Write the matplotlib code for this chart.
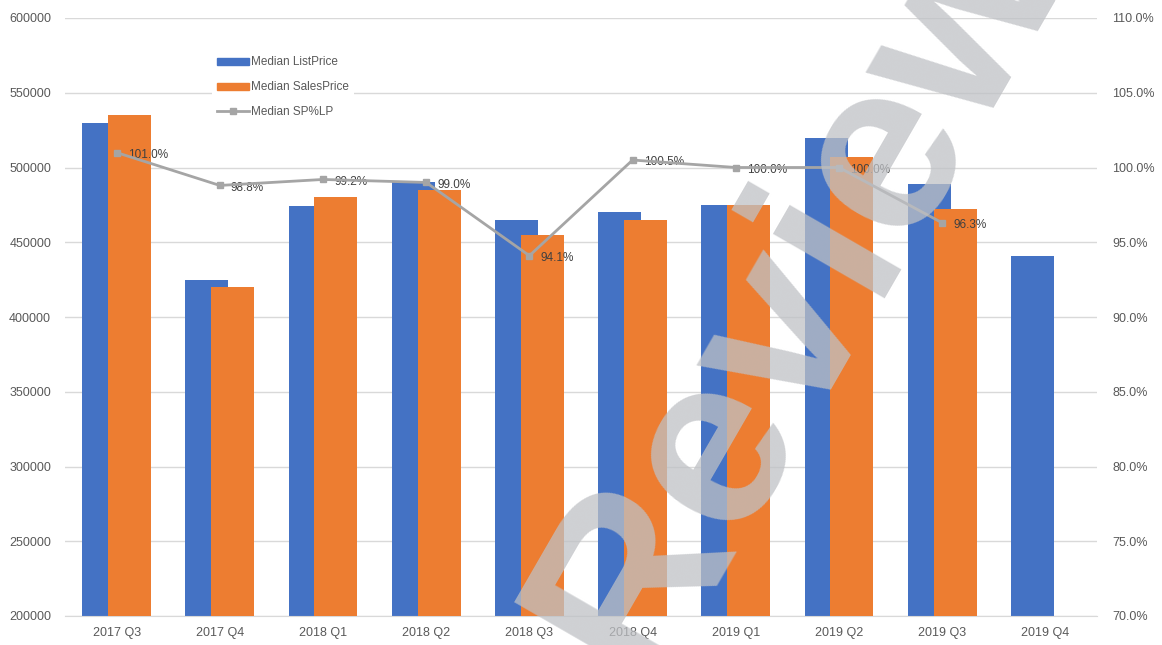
import numpy as np
import matplotlib.pyplot as plt
from matplotlib.patches import Patch
from matplotlib.lines import Line2D
from matplotlib.ticker import FuncFormatter, MultipleLocator

plt.rcParams['font.family'] = ['Liberation Sans', 'DejaVu Sans']

quarters = ['2017 Q3', '2017 Q4', '2018 Q1', '2018 Q2', '2018 Q3',
            '2018 Q4', '2019 Q1', '2019 Q2', '2019 Q3', '2019 Q4']
list_price = [530000, 425000, 474000, 490000, 465000,
              470000, 475000, 520000, 489000, 441000]
sales_price = [535000, 420000, 480000, 485000, 455000,
               465000, 475000, 507000, 472000, np.nan]
sp_lp = [101.0, 98.8, 99.2, 99.0, 94.1, 100.5, 100.0, 100.0, 96.3]

BLUE = '#4472C4'
ORANGE = '#ED7D31'
GREY = '#A5A5A5'
TICK = '#595959'

fig = plt.figure(figsize=(11.62, 6.45), dpi=100)
ax = fig.add_axes([65 / 1162, 29 / 645, 1032 / 1162, 598 / 645])
ax2 = ax.twinx()

x = np.arange(len(quarters))
w = 0.417
ax.bar(x - 0.125, list_price, w, color=BLUE, zorder=2)
ax.bar(x + 0.125, sales_price, w, color=ORANGE, zorder=3)

ax.set_xlim(-0.5, len(quarters) - 0.5)
ax.set_ylim(200000, 600000)
ax.yaxis.set_major_locator(MultipleLocator(50000))
ax.set_axisbelow(True)
ax.grid(axis='y', color='#D9D9D9', lw=1)
ax.set_xticks(x)
ax.set_xticklabels(quarters)
ax.tick_params(axis='both', length=0, labelsize=9, colors=TICK)
ax.tick_params(axis='x', pad=8)
ax.tick_params(axis='y', pad=10)
for side in ['top', 'left', 'right']:
    ax.spines[side].set_visible(False)
ax.spines['bottom'].set_color('#D9D9D9')

# ratio line on the right-hand axis
xl = x[:len(sp_lp)]
ax2.plot(xl, sp_lp, color=GREY, lw=2, marker='s', ms=4, zorder=4)
for xi, v in zip(xl, sp_lp):
    ax2.annotate(f'{v:.1f}%', (xi, v), xytext=(8, -1.5), textcoords='offset points',
                 ha='left', va='center', fontsize=8.5, color='#404040')
ax2.set_ylim(70, 110)
ax2.yaxis.set_major_locator(MultipleLocator(5))
ax2.yaxis.set_major_formatter(FuncFormatter(lambda v, p: f'{v:.1f}%'))
ax2.tick_params(axis='y', length=0, labelsize=9, colors=TICK, pad=11)
for side in ax2.spines:
    ax2.spines[side].set_visible(False)

handles = [Patch(color=BLUE), Patch(color=ORANGE),
           Line2D([], [], color=GREY, lw=2, marker='s', ms=4)]
labels = ['Median ListPrice', 'Median SalesPrice', 'Median SP%LP']
leg = ax2.legend(handles, labels, loc='upper left',
                 bbox_to_anchor=(212 / 1162, 1 - 51 / 645), bbox_transform=fig.transFigure,
                 fontsize=8.5, frameon=True, fancybox=False, framealpha=1,
                 edgecolor='none', facecolor='white', borderpad=0.45,
                 borderaxespad=0, handlelength=2.7, handleheight=0.55,
                 handletextpad=0.15, labelspacing=1.1)
for t in leg.get_texts():
    t.set_color(TICK)

# watermark across the whole figure
fig.text(644 / 1162, 1 - 686 / 645, 'Review', rotation=60, rotation_mode='anchor',
         ha='left', va='baseline', fontsize=176, fontweight='bold',
         family='Liberation Sans', color=(191 / 255, 193 / 255, 197 / 255),
         alpha=0.75, zorder=10)

fig.savefig('out.png', dpi=100)
